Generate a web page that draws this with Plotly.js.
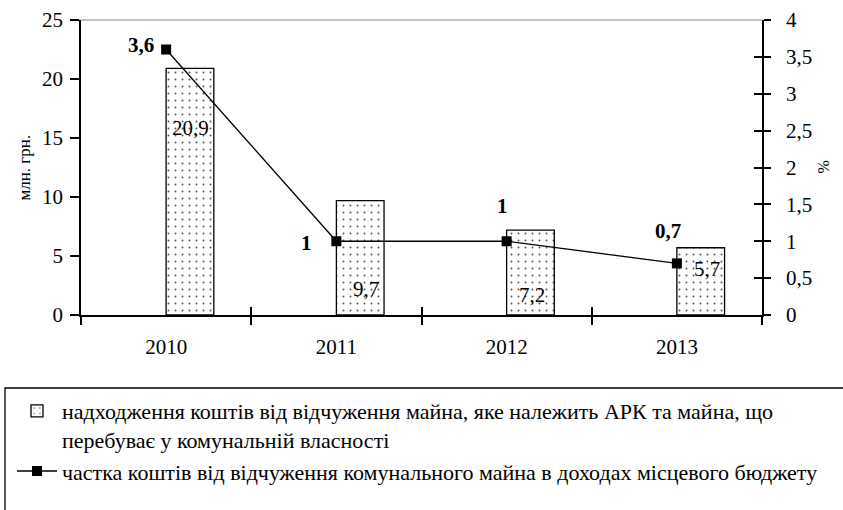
<!DOCTYPE html>
<html>
<head>
<meta charset="utf-8">
<script src="https://cdn.plot.ly/plotly-3.0.1.min.js"></script>
<style>html,body{margin:0;padding:0;background:#fff;}#chart{width:843px;height:510px;}
.fontwarm{position:absolute;left:-9999px;top:0;font-family:'Liberation Serif';font-size:20px;}</style>
</head>
<body>
<div class="fontwarm">2010 надходження <b>3,6</b></div>
<div id="chart"></div>
<script>
// ---- data ----
const years = ['2010', '2011', '2012', '2013'];
const incomeValues = [20.9, 9.7, 7.2, 5.7];      // млн. грн.
const shareValues = [3.6, 1, 1, 0.7];             // %
const barSeriesName = 'надходження коштів від відчуження майна, яке належить АРК та майна, що<br>перебуває у комунальній власності';
const lineSeriesName = 'частка коштів від відчуження комунального майна в доходах місцевого бюджету';
const leftAxisTitle = 'млн. грн.';
const rightAxisTitle = '%';

// ---- label placement (pixel offsets, style only) ----
const barLabelShift = [[24, -60], [30, -88], [25, -65], [30, -21]];
const lineLabelShift = [[-25, 5], [-30, -2], [-4, 35], [-9, 32]];

const FONT = 'Liberation Serif';
const fmt = v => String(v).replace('.', ',');

function draw() {
  const traces = [
    {
      type: 'bar', x: years, y: incomeValues, name: barSeriesName,
      xaxis: 'x', yaxis: 'y', offset: 0, width: 0.28,
      marker: {
        color: '#ffffff', line: {color: '#000', width: 1.3},
        pattern: {shape: '.', size: 7, solidity: 0.06, fgcolor: '#555', bgcolor: '#ffffff'}
      },
      hoverinfo: 'skip'
    },
    {
      type: 'scatter', mode: 'lines+markers', x: years, y: shareValues, name: lineSeriesName,
      xaxis: 'x', yaxis: 'y2',
      line: {color: '#000', width: 1.3},
      marker: {symbol: 'square', size: 10, color: '#000'},
      hoverinfo: 'skip'
    },
    // invisible helper traces so that the overlay axes (crossing ticks) are drawn
    {type: 'scatter', mode: 'markers', x: years, y: incomeValues, xaxis: 'x2', yaxis: 'y',
     marker: {opacity: 0}, showlegend: false, hoverinfo: 'skip'},
    {type: 'scatter', mode: 'markers', x: years, y: shareValues, xaxis: 'x', yaxis: 'y3',
     marker: {opacity: 0}, showlegend: false, hoverinfo: 'skip'}
  ];

  const annotations = [];
  years.forEach((yr, i) => {
    // on category axes annotation x is the category index
    annotations.push({
      x: i, y: incomeValues[i], xref: 'x', yref: 'y', text: fmt(incomeValues[i]),
      showarrow: false, xshift: barLabelShift[i][0], yshift: barLabelShift[i][1],
      font: {family: FONT, size: 21, color: '#000'}
    });
    annotations.push({
      x: i, y: shareValues[i], xref: 'x', yref: 'y2', text: '<b>' + fmt(shareValues[i]) + '</b>',
      showarrow: false, xshift: lineLabelShift[i][0], yshift: lineLabelShift[i][1],
      font: {family: FONT, size: 21, color: '#000'}
    });
  });
  annotations.push({
    xref: 'paper', yref: 'paper', x: (24 - 81) / 681, y: 0.5, text: leftAxisTitle,
    textangle: -90, showarrow: false, xanchor: 'center', yanchor: 'middle',
    font: {family: FONT, size: 17, color: '#000'}
  });
  annotations.push({
    xref: 'paper', yref: 'paper', x: (823 - 81) / 681, y: 0.5, text: rightAxisTitle,
    textangle: -90, showarrow: false, xanchor: 'center', yanchor: 'middle',
    font: {family: FONT, size: 16, color: '#000'}
  });

  const axisCommon = {
    showgrid: false, zeroline: false, showline: true, linecolor: '#000', linewidth: 1.5,
    tickcolor: '#000', tickwidth: 1.5,
    tickfont: {family: FONT, size: 21, color: '#000'}
  };

  const layout = {
    width: 843, height: 510,
    margin: {l: 81, r: 81, t: 20, b: 195, autoexpand: false},
    paper_bgcolor: '#fff', plot_bgcolor: '#fff',
    separators: ', ',
    font: {family: FONT, color: '#000'},
    showlegend: true, hovermode: false,
    xaxis: Object.assign({}, axisCommon, {
      type: 'category', categoryarray: years, range: [-0.5, 3.5],
      ticks: 'outside', ticklen: 8, tickson: 'boundaries', ticklabelstandoff: 12
    }),
    xaxis2: {
      type: 'category', categoryarray: years, range: [-0.5, 3.5], overlaying: 'x', anchor: 'y',
      side: 'bottom', showline: false, showgrid: false, zeroline: false,
      ticks: 'inside', ticklen: 8, tickwidth: 1.5, tickcolor: '#000', tickson: 'boundaries',
      showticklabels: false
    },
    yaxis: Object.assign({}, axisCommon, {
      range: [0, 25], dtick: 5, ticks: 'outside', ticklen: 9, ticklabelstandoff: 3
    }),
    yaxis2: Object.assign({}, axisCommon, {
      range: [0, 4], dtick: 0.5, ticks: 'outside', ticklen: 7, side: 'right', overlaying: 'y',
      ticklabelstandoff: 11
    }),
    yaxis3: {
      range: [0, 4], dtick: 0.5, overlaying: 'y', side: 'right', anchor: 'x',
      showline: false, showgrid: false, zeroline: false,
      ticks: 'inside', ticklen: 8, tickwidth: 1.5, tickcolor: '#000', showticklabels: false
    },
    legend: {
      xref: 'container', yref: 'container', x: 12 / 843, y: 1 - 390 / 510,
      xanchor: 'left', yanchor: 'top', orientation: 'v', valign: 'top',
      font: {family: FONT, size: 22, color: '#000'},
      bgcolor: 'rgba(0,0,0,0)', borderwidth: 0, itemwidth: 40, traceorder: 'normal'
    },
    shapes: [
      {type: 'line', xref: 'paper', yref: 'paper', x0: 0, x1: 1, y0: 1, y1: 1,
       line: {color: '#888', width: 1.2}},
      {type: 'rect', xref: 'paper', yref: 'paper',
       x0: (5 - 81) / 681, x1: (846 - 81) / 681, y0: (315 - 520) / 295, y1: (315 - 388) / 295,
       line: {color: '#000', width: 1.3}, fillcolor: 'rgba(0,0,0,0)'}
    ],
    annotations: annotations
  };

  Plotly.newPlot('chart', traces, layout, {displayModeBar: false});
}

Promise.all([
  document.fonts.load('21px "Liberation Serif"'),
  document.fonts.load('bold 21px "Liberation Serif"')
]).then(draw, draw);
</script>
</body>
</html>
